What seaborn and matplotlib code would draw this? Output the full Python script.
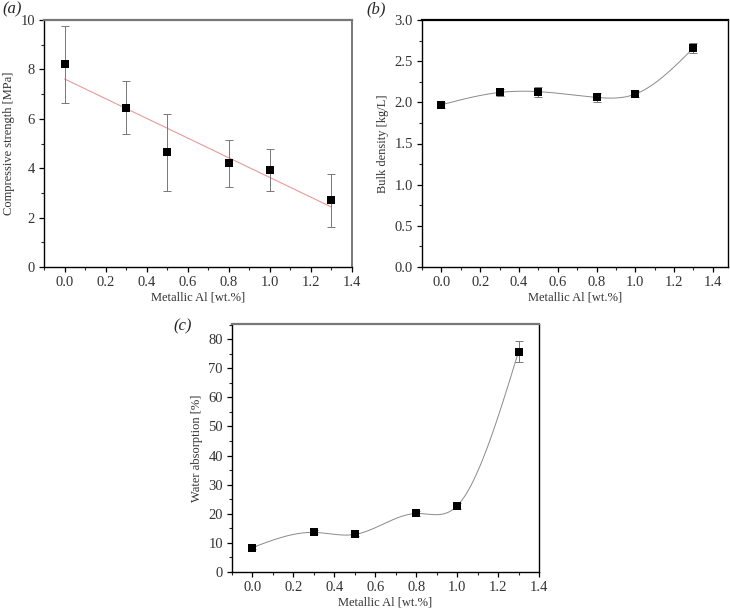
import numpy as np
import pandas as pd
import seaborn as sns
import matplotlib.pyplot as plt
from matplotlib.ticker import MultipleLocator

# Metallic Al content [wt.%]
al_content = [0.0, 0.3, 0.5, 0.8, 1.0, 1.3]

# (a) compressive strength [MPa]
strength = [8.2, 6.45, 4.65, 4.2, 3.92, 2.7]
strength_err = [1.55, 1.07, 1.56, 0.95, 0.85, 1.07]

# (b) bulk density [kg/L]
density = [1.97, 2.12, 2.13, 2.06, 2.10, 2.66]
density_err = [0.04, 0.04, 0.06, 0.05, 0.04, 0.06]

# (c) water absorption [%]
absorption = [8.4, 13.6, 12.9, 20.1, 22.7, 75.7]
absorption_err = [0.6, 0.7, 0.6, 0.9, 0.9, 3.6]


def natural_spline(x, y, n=300):
    # plain natural cubic spline, used for the smooth connecting curves
    x, y = np.asarray(x, float), np.asarray(y, float)
    k = len(x)
    h = np.diff(x)
    A = np.zeros((k, k)); r = np.zeros(k)
    A[0, 0] = A[-1, -1] = 1
    for i in range(1, k - 1):
        A[i, i - 1], A[i, i], A[i, i + 1] = h[i - 1], 2 * (h[i - 1] + h[i]), h[i]
        r[i] = 3 * ((y[i + 1] - y[i]) / h[i] - (y[i] - y[i - 1]) / h[i - 1])
    c = np.linalg.solve(A, r)
    b = (y[1:] - y[:-1]) / h - h * (2 * c[:-1] + c[1:]) / 3
    d = (c[1:] - c[:-1]) / (3 * h)
    xs = np.linspace(x[0], x[-1], n)
    idx = np.clip(np.searchsorted(x, xs) - 1, 0, k - 2)
    dx = xs - x[idx]
    ys = y[idx] + b[idx] * dx + c[idx] * dx ** 2 + d[idx] * dx ** 3
    return xs, ys


sns.set_theme(style="ticks")
plt.rcParams['font.family'] = ['Liberation Serif', 'DejaVu Serif']

fig = plt.figure(figsize=(7.3, 6.09), dpi=100)
W, H = 730, 609
ax_a = fig.add_axes([44 / W, 1 - 267 / H, 308 / W, 247 / H])
ax_b = fig.add_axes([422 / W, 1 - 267 / H, 306 / W, 247 / H])
ax_c = fig.add_axes([232 / W, 1 - 572 / H, 307 / W, 248 / H])

df = pd.DataFrame({'al': al_content, 'strength': strength, 'density': density,
                   'absorption': absorption})

tick_col = '#333333'
panels = [
    (ax_a, 'strength', strength_err, (0, 10), 2, 'Compressive strength [MPa]', '(a)', (2, 1, 'top')),
    (ax_b, 'density', density_err, (0, 3.0), 0.5, 'Bulk density [kg/L]', '(b)', (366, 1, 'top')),
    (ax_c, 'absorption', absorption_err, (0, 85.2), 10, 'Water absorption [%]', '(c)', (173, 326, 'center')),
]
for ax, col, err, ylim, ymaj, ylabel, label, (lx, ly, lva) in panels:
    if col == 'strength':
        sns.regplot(data=df, x='al', y=col, ci=None, scatter=False, truncate=True,
                    color='#e89a9a', line_kws={'lw': 0.8}, ax=ax)
    else:
        xs, ys = natural_spline(al_content, df[col])
        sns.lineplot(x=xs, y=ys, color='#8a8a8a', lw=0.7, ax=ax)
    ax.errorbar(al_content, df[col], yerr=err, fmt='none', ecolor='#777777',
                elinewidth=0.7, capsize=3, capthick=0.7, zorder=3)
    sns.scatterplot(data=df, x='al', y=col, marker='s', color='black', s=30,
                    edgecolor='black', linewidth=0, ax=ax, zorder=4)
    ax.set_xlim(-0.1, 1.4 if ax is not ax_b else 1.478)
    ax.set_ylim(*ylim)
    ax.xaxis.set_major_locator(MultipleLocator(0.2))
    ax.xaxis.set_minor_locator(MultipleLocator(0.1))
    ax.yaxis.set_major_locator(MultipleLocator(ymaj))
    ax.yaxis.set_minor_locator(MultipleLocator(ymaj / 2))
    if ax is ax_b:
        ax.set_yticklabels([f'{v:.1f}' for v in ax.get_yticks()])
    ax.set_xticklabels([f'{v:.1f}' for v in ax.get_xticks()])
    ax.tick_params(which='major', direction='out', length=3.5, width=0.9,
                   labelsize=10.5, colors='black', labelcolor=tick_col, pad=3)
    ax.tick_params(which='minor', direction='out', length=2, width=0.8)
    ax.set_xlabel('Metallic Al [wt.%]', fontsize=9, color=tick_col, labelpad=2)
    ax.set_ylabel(ylabel, fontsize=9, color=tick_col, labelpad=4)
    for s in ['left', 'bottom']:
        ax.spines[s].set_linewidth(1.0)
        ax.spines[s].set_color('black')
    ax.spines['top'].set_linewidth(1.6)
    ax.spines['top'].set_color('#777777' if ax is not ax_b else 'black')
    ax.spines['right'].set_linewidth(1.4 if ax is ax_a else 1.0)
    ax.spines['right'].set_color('#777777' if ax is ax_a else 'black')
    fig.text(lx / W, 1 - ly / H, label, fontsize=12, style='italic', va=lva, ha='left')

fig.savefig('out.png', dpi=100)
